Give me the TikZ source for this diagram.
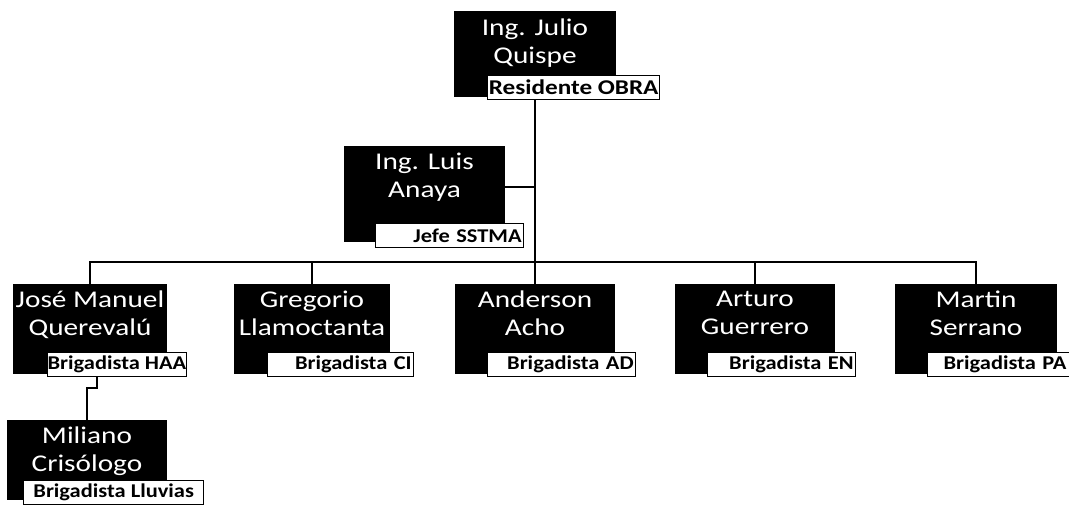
\documentclass[tikz,border=0pt]{standalone}
\usepackage{fontspec}
\newfontfamily\namefont{Carlito}[FakeStretch=1.22]
\newfontfamily\rolefont{Carlito}[FakeStretch=1.15]
\newfontfamily\rolefontbig{Carlito}[FakeStretch=1.2]
\tikzset{
  blackbox/.style={fill=black, draw=none, inner sep=0pt, anchor=north west},
  nametext/.style={text=white, font=\namefont\fontsize{24bp}{28bp}\selectfont, align=center, inner sep=0pt, anchor=north},
  rolebox/.style={fill=white, draw=black, line width=1.3bp, inner sep=0pt, anchor=north west,
    font=\rolefont\bfseries\fontsize{19.5bp}{21bp}\selectfont, minimum height=24bp},
  rolebig/.style={rolebox, font=\rolefontbig\bfseries\fontsize{21bp}{22bp}\selectfont},
  link/.style={draw=black, line width=1.6bp}
}
\begin{document}
\begin{tikzpicture}[x=1bp,y=-1bp]
\useasboundingbox[fill=white] (0,0) rectangle (1069,515);
% top
\node[blackbox, minimum width=162bp, minimum height=86bp] (jq) at (454,11) {};
\node[nametext] (jqt) at (535,19) {Ing. Julio\\Quispe};
\node[rolebig, minimum width=172bp] (jqr) at (487,75) {Residente OBRA};
% jefe
\node[blackbox, minimum width=161bp, minimum height=96bp] (jf) at (344,146) {};
\node[nametext] (jft) at (424.5,153) {Ing. Luis\\Anaya};
\node[rolebox, text width=144bp, align=right, inner xsep=2bp] (jfr) at (375,223) {Jefe SSTMA};
% bottom row
\node[blackbox, minimum width=154bp, minimum height=90bp] (jm) at (13,284) {};
\node[nametext] (jmt) at (90,291) {José Manuel\\Querevalú};
\node[rolebox, minimum width=138bp] (jmr) at (47,352) {Brigadista HAA};

\node[blackbox, minimum width=156bp, minimum height=90bp] (gl) at (234,284) {};
\node[nametext] (glt) at (312,291) {Gregorio\\Llamoctanta};
\node[rolebox, text width=142bp, align=right, inner xsep=2bp] (glr) at (267,352) {Brigadista CI};

\node[blackbox, minimum width=160bp, minimum height=90bp] (an) at (455,284) {};
\node[nametext] (ant) at (535,291) {Anderson\\Acho};
\node[rolebox, text width=144bp, align=right, inner xsep=2bp] (anr) at (487,352) {Brigadista AD};

\node[blackbox, minimum width=160bp, minimum height=90bp] (ag) at (675,284) {};
\node[nametext] (agt) at (755,291) {Arturo\\Guerrero};
\node[rolebox, text width=144bp, align=right, inner xsep=2bp] (agr) at (707,352) {Brigadista EN};

\node[blackbox, minimum width=162bp, minimum height=90bp] (ms) at (895,284) {};
\node[nametext] (mst) at (976,291) {Martin\\Serrano};
\node[rolebox, text width=150bp, align=left, inner xsep=16bp] (msr) at (927,352) {Brigadista PA};

% miliano
\node[blackbox, minimum width=160bp, minimum height=80bp] (mc) at (7,420) {};
\node[nametext] (mct) at (87,427) {Miliano\\Crisólogo};
\node[rolebox, minimum width=180bp] (mcr) at (23,480) {Brigadista Lluvias};

% connectors
\coordinate (bus) at (535,262);
\coordinate (jfj) at ([yshift=7bp]jf.east);
\coordinate (jog) at (97,388);
\draw[link] (jqr.south -| an.north) -- (an.north);
\draw[link] (jfj) -- (jfj -| an.north);
\draw[link] (jm.north) |- (bus) -| (ms.north);
\draw[link] (gl.north) -- (gl.north |- bus);
\draw[link] (ag.north) -- (ag.north |- bus);
\draw[link] (jog |- jmr.south) -- (jog) -| (mc.north);
\end{tikzpicture}
\end{document}
